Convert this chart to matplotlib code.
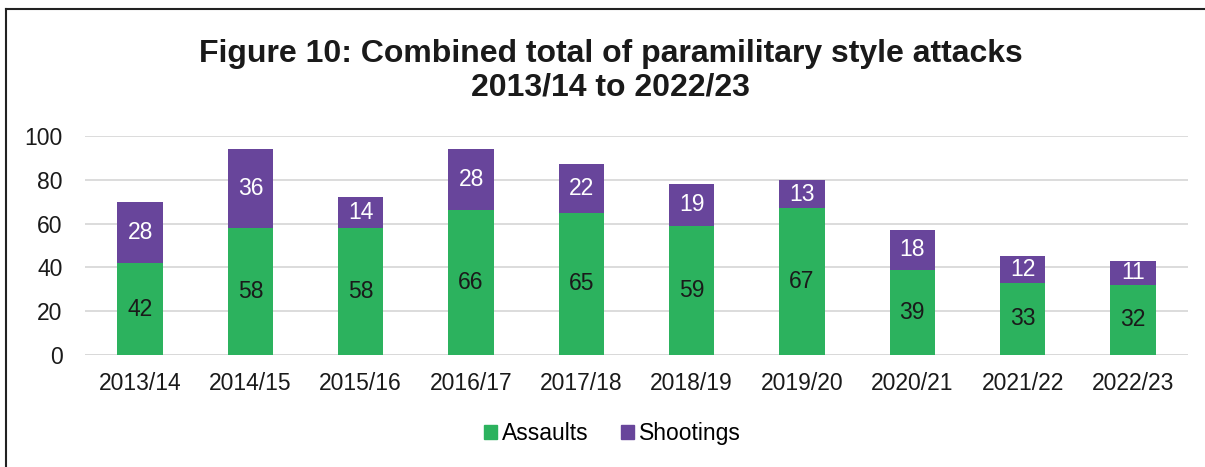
import matplotlib.pyplot as plt
from matplotlib.lines import Line2D
from matplotlib.patches import Patch

plt.rcParams['font.family'] = ['Liberation Sans', 'DejaVu Sans']

years = ["2013/14", "2014/15", "2015/16", "2016/17", "2017/18",
         "2018/19", "2019/20", "2020/21", "2021/22", "2022/23"]
assaults = [42, 58, 58, 66, 65, 59, 67, 39, 33, 32]
shootings = [28, 36, 14, 28, 22, 19, 13, 18, 12, 11]

GREEN = '#2CB25E'
PURPLE = '#68459B'

fig = plt.figure(figsize=(12.05, 4.67), dpi=100)
ax = fig.add_axes([0.0705, 0.2398, 0.9155, 0.469])

x = range(len(years))
width = 0.41
ax.bar(x, assaults, width, color=GREEN, zorder=3)
ax.bar(x, shootings, width, bottom=assaults, color=PURPLE, zorder=3)

for i, (a, s) in enumerate(zip(assaults, shootings)):
    ax.text(i, a / 2, str(a), ha='center', va='center', fontsize=16.5, color='#1a1a1a', zorder=4)
    ax.text(i, a + s / 2, str(s), ha='center', va='center', fontsize=16.5, color='white', zorder=4)

ax.set_xlim(-0.5, len(years) - 0.5)
ax.set_ylim(0, 100)
ax.set_yticks(range(0, 101, 20))
ax.set_xticks(list(x))
ax.set_xticklabels(years)
ax.tick_params(axis='both', length=0, labelsize=16.5, colors='#1a1a1a')
ax.tick_params(axis='x', pad=12)
ax.tick_params(axis='y', pad=16)
ax.grid(axis='y', color='#d9d9d9', linewidth=1.3, zorder=0)
for sp in ax.spines.values():
    sp.set_visible(False)
ax.axhline(0, color='#d9d9d9', linewidth=1.3, zorder=2)

fig.text(0.507, 0.849, "Figure 10: Combined total of paramilitary style attacks\n2013/14 to 2022/23",
         ha='center', va='center', fontsize=23, fontweight='bold', color='#1a1a1a', linespacing=1.15)

handles = [Patch(color=GREEN, label='Assaults'), Patch(color=PURPLE, label='Shootings')]
fig.legend(handles=handles, loc='center', bbox_to_anchor=(0.508, 0.072), ncol=2, frameon=False,
           fontsize=16.5, handlelength=0.6, handleheight=0.6, handletextpad=0.2, columnspacing=1.4)

# frame border (top and left visible)
fig.add_artist(Line2D([0.005, 1.0], [0.981, 0.981], color='#222222', linewidth=1.5, transform=fig.transFigure))
fig.add_artist(Line2D([0.005, 0.005], [0.0, 0.981], color='#222222', linewidth=1.5, transform=fig.transFigure))

fig.savefig('out.png', dpi=100)
